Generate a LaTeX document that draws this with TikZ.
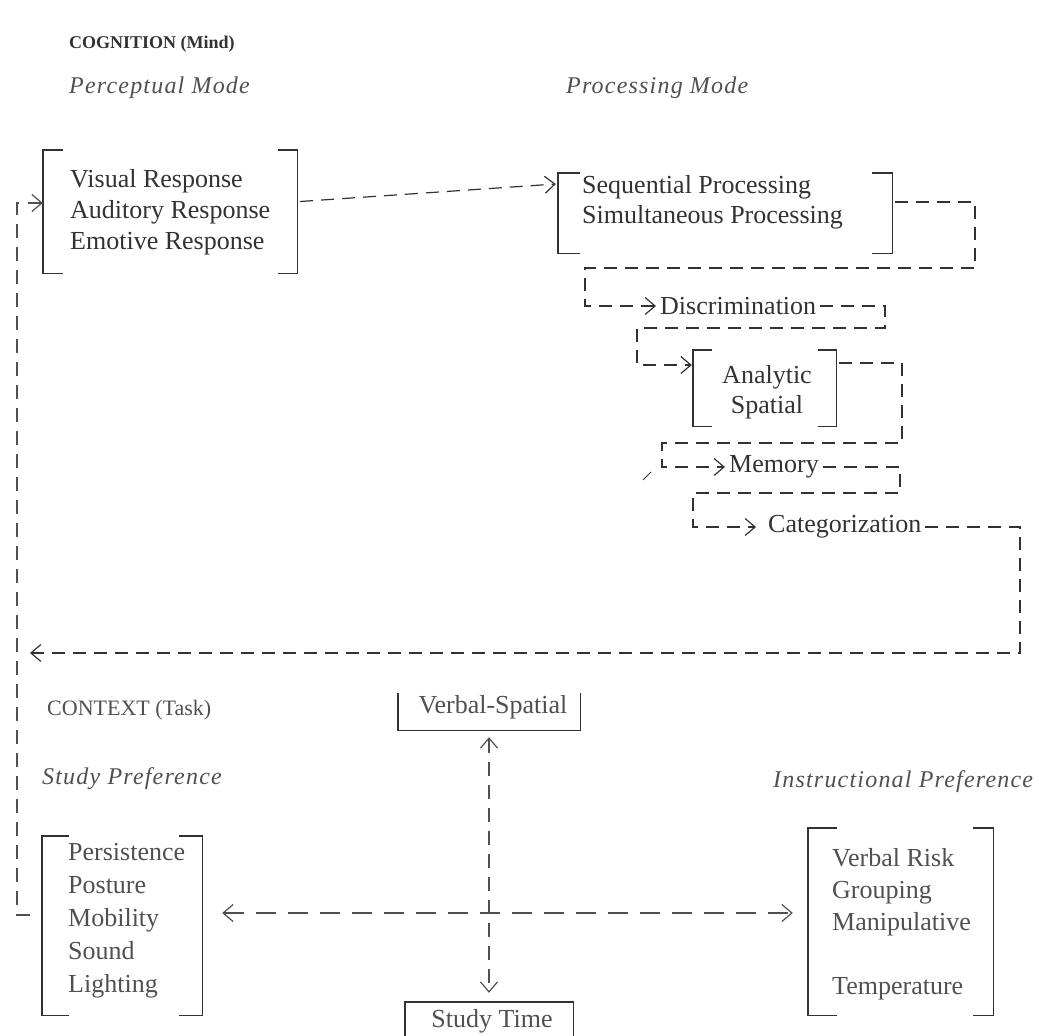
\documentclass[tikz,border=0pt]{standalone}
\usepackage{fontspec}
\setmainfont{Liberation Serif}
\usetikzlibrary{arrows.meta}
\definecolor{ink}{RGB}{50,50,50}
\definecolor{inkl}{RGB}{80,80,80}
\newcommand\bracketbox[3]{%
  \draw[brk] ([xshift=#2]#1.north west) -- (#1.north west) -- (#1.south west) -- ([xshift=#2]#1.south west);
  \draw[brk] ([xshift=-#3]#1.north east) -- (#1.north east) -- (#1.south east) -- ([xshift=-#3]#1.south east);}
\tikzset{
  txt/.style={inner sep=0pt, text=ink, font=\fontsize{26}{31}\selectfont, align=left, anchor=west},
  lbl/.style={inner xsep=4pt, inner ysep=2pt, text=ink, font=\fontsize{26}{31}\selectfont, anchor=west},
  head/.style={inner sep=0pt, text=ink, anchor=west, font=\fontsize{18}{22}\selectfont\bfseries},
  headl/.style={inner sep=0pt, text=inkl, anchor=west, font=\fontsize{22}{25}\selectfont},
  ital/.style={inner sep=0pt, text=inkl, anchor=west, font=\fontsize{24}{28}\selectfont\itshape\addfontfeature{LetterSpace=5}},
  frame/.style={draw=none, inner sep=0pt},
  brk/.style={draw=ink, line width=1.4pt},
  flow/.style={draw=ink, line width=1.2pt, dash pattern=on 13pt off 8pt},
  flowb/.style={draw=inkl, line width=1.2pt, dash pattern=on 20pt off 12pt},
  flowc/.style={draw=inkl, line width=1.2pt, dash pattern=on 14pt off 9pt},
  tip/.style={-{Straight Barb[length=10pt,width=17pt]}},
  tips/.style={{Straight Barb[length=10pt,width=17pt]}-{Straight Barb[length=10pt,width=17pt]}},
}
\begin{document}
\begin{tikzpicture}[x=1pt,y=-1pt]
\useasboundingbox (0,0) rectangle (1039,1036);

% headings
\node[head] (hcog) at (69,44) {COGNITION (Mind)};
\node[ital] (hper) at (69,88) {Perceptual Mode};
\node[ital] (hpro) at (566,88) {Processing Mode};
\node[headl] (hctx) at (47,710) {CONTEXT (Task)};
\node[ital] (hstu) at (42,779) {Study Preference};
\node[ital] (hins) at (773,782) {Instructional Preference};

% frames
\node[frame, minimum width=254pt, minimum height=123pt] (b1) at (170,211.5) {};
\node[frame, minimum width=334pt, minimum height=80pt] (b2) at (725,213) {};
\node[frame, minimum width=143pt, minimum height=76pt] (ban) at (764.5,388) {};
\node[frame, minimum width=160pt, minimum height=179pt] (bst) at (122,925.5) {};
\node[frame, minimum width=185pt, minimum height=187pt] (bin) at (900.5,921.5) {};
\node[frame, minimum width=182pt, minimum height=37pt] (bvs) at (489,711.5) {};
\node[frame, minimum width=168pt, minimum height=34pt] (btm) at (489,1019) {};

\bracketbox{b1}{20pt}{19pt}
\bracketbox{b2}{22pt}{20pt}
\bracketbox{ban}{19pt}{18pt}
\bracketbox{bst}{27pt}{23pt}
\bracketbox{bin}{29pt}{20pt}
\draw[brk] (bvs.north west) -- (bvs.south west) -- (bvs.south east) -- (bvs.north east);
\draw[brk] (btm.south west) -- (btm.north west) -- (btm.north east) -- (btm.south east);

% texts
\node[txt] (t1) at (70,212) {Visual Response\\Auditory Response\\Emotive Response};
\node[txt, font=\fontsize{26}{30}\selectfont] (t2) at (582,202) {Sequential Processing\\Simultaneous Processing};
\node[txt, align=center, anchor=center, font=\fontsize{26}{30}\selectfont] (t3) at (767,392) {Analytic\\Spatial};
\node[lbl] (disc) at (656,306) {Discrimination};
\node[lbl] (mem) at (725,467) {Memory};
\node[lbl] (cat) at (764,527) {Categorization};
\node[txt, text=inkl, font=\fontsize{26}{33}\selectfont] (t4) at (68,921) {Persistence\\Posture\\Mobility\\Sound\\Lighting};
\node[txt, text=inkl, font=\fontsize{26}{32}\selectfont] (t5) at (832,924) {Verbal Risk\\Grouping\\Manipulative\\\mbox{}\\Temperature};
\node[txt, text=inkl, anchor=center] (vs) at (493,707) {Verbal-Spatial};
\node[txt, text=inkl, anchor=center] (st) at (492,1021) {Study Time};

% cognition chain
\draw[flow,tip] ([shift={(3,-10)}]b1.east) -- ([shift={(-2,-29)}]b2.west);
\draw[flow,tip] ([shift={(3,-11)}]b2.east) -- (975,202) -- (975,268) -- (585,268) |- (disc.west);
\draw[flow,tip] (disc.east) -- (885,306) -- (885,328) -- (637,328) |- ([shift={(-1,-23)}]ban.west);
\draw[flow,tip] ([shift={(3,-25)}]ban.east) -- (902,363) -- (902,443) -- (662,443) |- (mem.west);
\draw[flow,tip] (mem.east) -- (900,467) -- (900,493) -- (693,493) |- ([xshift=-8pt]cat.west);
\coordinate (ret) at (30,653);
\draw[flow,tip] (cat.east) -- (1020,527) -- (1020,653) -- (ret);
\draw[flowc,tip] ([shift={(-12,-10.5)}]bst.west) -- (17,915) |- ([shift={(0,-8.5)}]b1.west);
\draw[ink, line width=0.8pt] (643,480) -- (651,472);

% context arrows
\draw[flowb,tips] ([shift={(20,-12.5)}]bst.east) -- ([shift={(-15,-8.5)}]bin.west);
\draw[flowc,tips] ([yshift=-7pt]bvs.south) -- ([yshift=9pt]btm.north);
\end{tikzpicture}
\end{document}
